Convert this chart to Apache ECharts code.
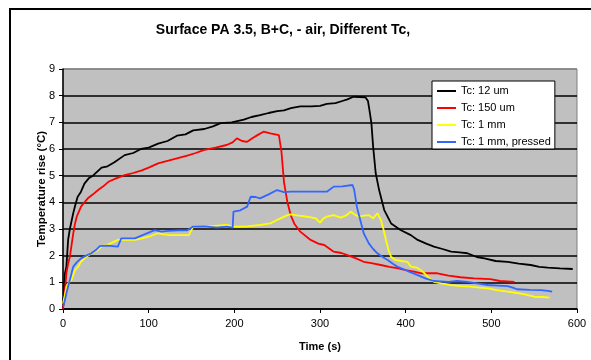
<!DOCTYPE html>
<html>
<head>
<meta charset="utf-8">
<script src="https://cdn.jsdelivr.net/npm/echarts@6/dist/echarts.min.js"></script>
<style>html,body{margin:0;padding:0;background:#fff;}#c{width:591px;height:360px;}</style>
</head>
<body>
<div id="c"></div>
<script>
var titleText = 'Surface PA 3.5, B+C, - air, Different Tc,';
var xName = 'Time (s)';
var yName = 'Temperature rise (°C)';
var seriesNames = ['Tc: 12 um', 'Tc: 150 um', 'Tc: 1 mm', 'Tc: 1 mm, pressed'];

var black12um = [[0,0],[1,0.5],[2,1.3],[4,1.6],[6,2.6],[8,3.0],[10,3.3],[12,3.6],[14,3.85],[17,4.2],[21,4.4],[25,4.7],[30,4.9],[35,5.0],[40,5.15],[45,5.3],[52,5.35],[60,5.5],[72,5.77],[82,5.85],[91,6.0],[100,6.05],[111,6.2],[122,6.3],[133,6.5],[143,6.55],[152,6.7],[165,6.75],[175,6.85],[184,6.97],[197,7.0],[211,7.1],[220,7.2],[230,7.27],[240,7.35],[250,7.42],[258,7.45],[266,7.53],[277,7.6],[290,7.6],[300,7.62],[308,7.69],[318,7.72],[326,7.8],[332,7.86],[339,7.96],[346,7.95],[353,7.94],[356,7.8],[358,7.4],[360,6.97],[362,6.1],[365,5.1],[369,4.46],[375,3.71],[383,3.21],[394,2.96],[406,2.77],[414,2.59],[424,2.45],[433,2.34],[443,2.25],[453,2.15],[463,2.12],[472,2.09],[483,1.95],[492,1.9],[505,1.8],[519,1.77],[532,1.7],[546,1.65],[556,1.58],[566,1.55],[580,1.52],[595,1.5]];

var red150um = [[0,0],[2,0.6],[4,1.35],[6,1.7],[8,1.96],[10,2.4],[12,2.84],[14,3.2],[16,3.46],[21,3.84],[25,4.0],[29,4.15],[35,4.3],[41,4.46],[47,4.6],[53,4.77],[62,4.9],[72,5.02],[82,5.1],[92,5.2],[100,5.3],[111,5.46],[123,5.56],[133,5.65],[145,5.75],[155,5.85],[164,5.96],[178,6.05],[191,6.15],[198,6.25],[203,6.4],[209,6.3],[215,6.27],[221,6.4],[227,6.52],[234,6.65],[242,6.59],[252,6.52],[255,5.9],[258,4.75],[262,4.0],[266,3.5],[270,3.2],[277,2.9],[289,2.59],[298,2.45],[305,2.4],[316,2.15],[325,2.1],[332,2.02],[342,1.9],[351,1.77],[360,1.72],[371,1.65],[381,1.58],[390,1.53],[400,1.46],[410,1.4],[418,1.34],[437,1.34],[450,1.25],[464,1.19],[480,1.15],[499,1.12],[510,1.05],[527,1.02]];

var yellow1mm = [[0,0.2],[2,0.5],[4,0.84],[7,1.0],[10,1.09],[14,1.46],[18,1.6],[21,1.77],[27,1.95],[33,2.09],[40,2.2],[45,2.34],[55,2.45],[64,2.59],[75,2.6],[84,2.59],[92,2.65],[100,2.71],[111,2.84],[118,2.8],[125,2.77],[135,2.77],[147,2.77],[152,3.09],[170,3.1],[191,3.15],[199,3.09],[215,3.1],[230,3.15],[242,3.21],[250,3.34],[262,3.52],[266,3.55],[275,3.5],[285,3.46],[295,3.4],[300,3.24],[304,3.4],[308,3.46],[316,3.52],[324,3.43],[330,3.5],[336,3.65],[340,3.55],[345,3.46],[352,3.5],[357,3.52],[362,3.4],[367,3.59],[371,3.34],[374,3.0],[377,2.59],[380,2.2],[383,1.96],[388,1.84],[395,1.8],[402,1.77],[406,1.59],[413,1.55],[418,1.45],[422,1.34],[428,1.15],[433,1.02],[443,0.95],[453,0.9],[465,0.86],[476,0.84],[486,0.8],[496,0.77],[508,0.7],[519,0.65],[530,0.6],[539,0.55],[545,0.5],[550,0.46],[560,0.45],[568,0.43]];

var blue1mmPressed = [[0,0.09],[2,0.3],[4,0.59],[6,0.85],[8,1.09],[10,1.35],[12,1.59],[16,1.75],[21,1.9],[27,2.0],[33,2.09],[38,2.2],[43,2.36],[52,2.38],[64,2.34],[68,2.65],[76,2.65],[84,2.65],[95,2.8],[107,2.96],[115,2.9],[123,2.93],[135,2.95],[145,2.95],[152,3.09],[165,3.1],[180,3.05],[191,3.09],[198,3.05],[199,3.65],[207,3.7],[215,3.84],[219,4.21],[225,4.2],[230,4.15],[240,4.3],[250,4.46],[258,4.38],[266,4.4],[280,4.4],[295,4.4],[308,4.4],[316,4.59],[326,4.6],[338,4.65],[340,4.46],[343,3.84],[347,3.34],[351,2.84],[357,2.46],[362,2.25],[367,2.09],[373,1.95],[379,1.84],[385,1.7],[390,1.59],[397,1.5],[404,1.4],[414,1.27],[423,1.15],[433,1.05],[450,1.02],[460,1.05],[472,1.02],[485,0.95],[496,0.9],[508,0.88],[519,0.86],[525,0.8],[530,0.74],[545,0.72],[558,0.71],[566,0.68],[571,0.65]];

var seriesData = [black12um, red150um, yellow1mm, blue1mmPressed];
var seriesColors = ['#000000', '#ff0000', '#ffff00', '#3366ff'];

var chart = echarts.init(document.getElementById('c'), null, {renderer: 'canvas'});
var font = 'Arial, "Liberation Sans", sans-serif';
var gridColors = ['#000','#000','#000','#000','#000','#000','#000','#000','#000','#808080'];

chart.setOption({
  animation: false,
  backgroundColor: '#ffffff',
  graphic: [
    {type: 'rect', shape: {x: 10, y: 9, width: 620, height: 400}, style: {fill: 'none', stroke: '#000', lineWidth: 2}, silent: true},
    {type: 'text', x: 283, y: 30, style: {text: titleText, fontFamily: font, fontSize: 14, fontWeight: 'bold', fill: '#000', textAlign: 'center', textVerticalAlign: 'middle'}}
  ],
  grid: {left: 63, right: 14, top: 69, bottom: 51, show: true, backgroundColor: '#c0c0c0', borderColor: '#808080', borderWidth: 1},
  legend: {
    left: 432, top: 81, orient: 'vertical',
    backgroundColor: '#ffffff', borderColor: '#000', borderWidth: 1,
    padding: [4, 4, 1, 5], itemGap: 5, itemWidth: 19, itemHeight: 2, icon: 'rect',
    textStyle: {fontFamily: font, fontSize: 11, color: '#000', lineHeight: 12},
    data: seriesNames
  },
  xAxis: {
    type: 'value', min: 0, max: 600, interval: 100,
    name: xName, nameLocation: 'middle', nameGap: 32,
    nameTextStyle: {fontFamily: font, fontSize: 11, fontWeight: 'bold', color: '#000'},
    axisLine: {show: true, onZero: false, lineStyle: {color: '#000', width: 1.5}},
    axisTick: {show: true, inside: false, length: 4, lineStyle: {color: '#000'}},
    axisLabel: {fontFamily: font, fontSize: 11, color: '#000', margin: 9},
    splitLine: {show: false}
  },
  yAxis: {
    type: 'value', min: 0, max: 9, interval: 1,
    name: yName, nameLocation: 'middle', nameGap: 15, nameRotate: 90, nameMoveOverlap: false,
    nameTextStyle: {fontFamily: font, fontSize: 11.5, fontWeight: 'bold', color: '#000'},
    axisLine: {show: true, lineStyle: {color: '#000', width: 1.5}},
    axisTick: {show: true, inside: false, length: 4, lineStyle: {color: '#000'}},
    axisLabel: {fontFamily: font, fontSize: 11, color: '#000', margin: 8},
    splitLine: {show: true, lineStyle: {color: gridColors, width: 1.5}}
  },
  series: seriesNames.map(function (n, i) {
    return {
      name: n, type: 'line', data: seriesData[i], symbol: 'none',
      lineStyle: {color: seriesColors[i], width: 1.8},
      itemStyle: {color: seriesColors[i]}
    };
  })
});
</script>
</body>
</html>
